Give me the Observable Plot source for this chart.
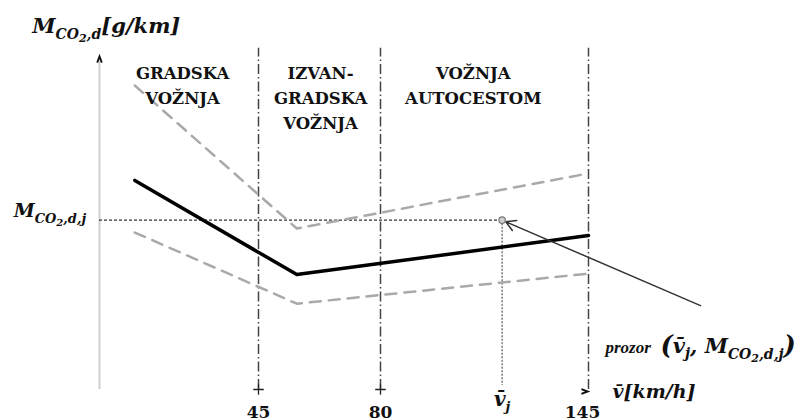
<!DOCTYPE html>
<html>
<head>
<meta charset="utf-8">
<script src="https://cdn.jsdelivr.net/npm/d3@7"></script>
<script src="https://cdn.jsdelivr.net/npm/@observablehq/plot@0.6"></script>
<style>
  html, body { margin: 0; padding: 0; background: #fff; }
  #chart svg { display: block; }
</style>
</head>
<body>
<div id="chart"></div>
<script>
// ---- data (schematic values) ----
const zoneBounds = [45, 80, 145];                 // km/h
const speedTickLabels = ["45", "80", "145"];
const zoneLabels = ["GRADSKA\nVOŽNJA", "IZVAN-\nGRADSKA\nVOŽNJA", "VOŽNJA\nAUTOCESTOM"];
const zoneLabelSpeed = [23.5, 62.8, 109];
const curveSpeed = [10, 56, 145];
const meanEmission = [62.6, 34.4, 46.1];
const upperEmission = [91.0, 48.2, 64.7];
const lowerEmission = [47.0, 25.7, 34.7];
const windowSpeed = 118;
const windowEmission = 50.7;

// math labels: [text, font size, baseline shift]
const mathLabels = {
  yTitle: [["M", 21, 0], ["CO", 14, 6], ["2", 11, 9], [",d", 14, 6], ["[g/km]", 21, 0]],
  mj: [["M", 19, 0], ["CO", 13, 6], ["2", 10, 9], [",d,j", 13, 6]],
  vj: [["v\u0304", 20, 0], ["j", 13, 5]],
  vAxis: [["v\u0304", 19, 0], ["[km/h]", 19, 0]],
  win: [["(", 26, 1], ["v\u0304", 21, 0], ["j", 14, 5], [", ", 21, 0], ["M", 21, 0], ["CO", 14, 6], ["2", 11, 9], [",d,j", 14, 6], [")", 26, 1]]
};
const plain = k => mathLabels[k].map(s => s[0]).join("");

const rows = curveSpeed.map((s, i) => ({speed: s, mean: meanEmission[i], upper: upperEmission[i], lower: lowerEmission[i]}));

const serif = "DejaVu Serif, Liberation Serif, serif";

// open chevron symbol pointing right (rotated where needed)
const chevron = {
  draw(context, size) {
    const r = Math.sqrt(size) / 2;
    context.moveTo(-r, -r * 0.75);
    context.lineTo(r, 0);
    context.lineTo(-r, r * 0.75);
  }
};

const plot = Plot.plot({
  width: 806,
  height: 420,
  margin: 0,
  style: {background: "#fff", overflow: "visible"},
  x: {type: "linear", domain: [0, 45, 80, 145], range: [99, 258, 380, 588], axis: null},
  y: {type: "linear", domain: [0, 100], range: [389, 55], axis: null},
  marks: [
    // y axis
    Plot.ruleX([0], {y1: 0, y2: 99.5, stroke: "#cfcfcf", strokeWidth: 2}),
    Plot.dot([0], {x: 0, y: 98.8, symbol: chevron, r: 3.5, rotate: -90, fill: "none", stroke: "#111", strokeWidth: 1.8}),
    // zone boundaries
    Plot.ruleX(zoneBounds, {y1: 0, y2: 102.2, stroke: "#444", strokeWidth: 1.5, strokeDasharray: "10,3,1.5,3"}),
    Plot.dot(zoneBounds.slice(0, 2), {x: d => d, y: 0, symbol: "plus", r: 3.5, stroke: "#222", strokeWidth: 1.3}),
    Plot.dot(zoneBounds.slice(2), {x: d => d, y: -0.6, dx: -4, symbol: chevron, r: 3.5, fill: "none", stroke: "#111", strokeWidth: 2}),
    // window guide lines
    Plot.ruleY([windowEmission], {x1: 0, x2: windowSpeed, stroke: "#333", strokeWidth: 1.2, strokeDasharray: "3,2"}),
    Plot.ruleX([windowSpeed], {y1: windowEmission, y2: 1.2, stroke: "#555", strokeWidth: 1.2, strokeDasharray: "2,1.5"}),
    // band lines
    Plot.line(rows, {x: "speed", y: "upper", stroke: "#a9a9a9", strokeWidth: 2.5, strokeDasharray: "11,8"}),
    Plot.line(rows, {x: "speed", y: "lower", stroke: "#a9a9a9", strokeWidth: 2.5, strokeDasharray: "11,8"}),
    Plot.line(rows, {x: "speed", y: "mean", stroke: "#000", strokeWidth: 3.5}),
    // arrow to window point
    Plot.arrow([0], {x1: 180, y1: 25.1, x2: windowSpeed, y2: windowEmission, stroke: "#333", strokeWidth: 1.5, headLength: 11, insetEnd: 4}),
    Plot.dot([0], {x: windowSpeed, y: windowEmission, r: 3.2, fill: "#cfcfcf", stroke: "#777", strokeWidth: 1.2}),
    // zone labels
    Plot.text(zoneLabels, {x: (d, i) => zoneLabelSpeed[i], y: 98.2, text: d => d, lineAnchor: "top", lineHeight: 1.5,
      fontFamily: serif, fontWeight: "bold", fontSize: 16.5, fill: "#111"}),
    // tick labels
    Plot.text(speedTickLabels.slice(0, 2), {x: (d, i) => zoneBounds[i], y: -8.4, text: d => d, lineAnchor: "bottom",
      fontFamily: serif, fontWeight: "bold", fontSize: 17, fill: "#111"}),
    Plot.text(speedTickLabels.slice(2), {x: (d, i) => zoneBounds[i + 2], y: -8.4, dx: -6, text: d => d, lineAnchor: "bottom",
      fontFamily: serif, fontWeight: "bold", fontSize: 17, fill: "#111"}),
    // math labels
    Plot.text([plain("yTitle")], {x: -19, y: 106.6, text: d => d, textAnchor: "start", lineAnchor: "bottom",
      fontFamily: serif, fontWeight: "bold", fontStyle: "italic", fontSize: 21, fill: "#111"}),
    Plot.text([plain("mj")], {x: -24.3, y: 51.5, text: d => d, textAnchor: "start", lineAnchor: "bottom",
      fontFamily: serif, fontWeight: "bold", fontStyle: "italic", fontSize: 19, fill: "#111"}),
    Plot.text([plain("vj")], {x: windowSpeed, y: -5, text: d => d, textAnchor: "middle", lineAnchor: "bottom",
      fontFamily: serif, fontWeight: "bold", fontStyle: "italic", fontSize: 20, fill: "#111"}),
    Plot.text([plain("vAxis")], {x: 152.5, y: -2.4, text: d => d, textAnchor: "start", lineAnchor: "bottom",
      fontFamily: serif, fontWeight: "bold", fontStyle: "italic", fontSize: 19, fill: "#111"}),
    Plot.text(["prozor"], {x: 150.3, y: 11, text: d => d, textAnchor: "start", lineAnchor: "bottom",
      fontFamily: "Liberation Serif, serif", fontWeight: "bold", fontStyle: "italic", fontSize: 17, fill: "#111"}),
    Plot.text([plain("win")], {x: 167.5, y: 11, text: d => d, textAnchor: "start", lineAnchor: "bottom",
      fontFamily: serif, fontWeight: "bold", fontStyle: "italic", fontSize: 21, fill: "#111"})
  ]
});

// Rebuild math labels with subscript tspans
const byPlain = {};
for (const k in mathLabels) byPlain[plain(k)] = mathLabels[k];
plot.querySelectorAll("text").forEach(t => {
  const segs = byPlain[t.textContent];
  if (!segs) return;
  while (t.firstChild) t.removeChild(t.firstChild);
  let prev = 0;
  for (const [str, size, shift] of segs) {
    const ts = document.createElementNS("http://www.w3.org/2000/svg", "tspan");
    ts.setAttribute("font-size", size);
    ts.setAttribute("dy", shift - prev);
    ts.textContent = str;
    t.appendChild(ts);
    prev = shift;
  }
});

document.getElementById("chart").appendChild(plot);
</script>
</body>
</html>
